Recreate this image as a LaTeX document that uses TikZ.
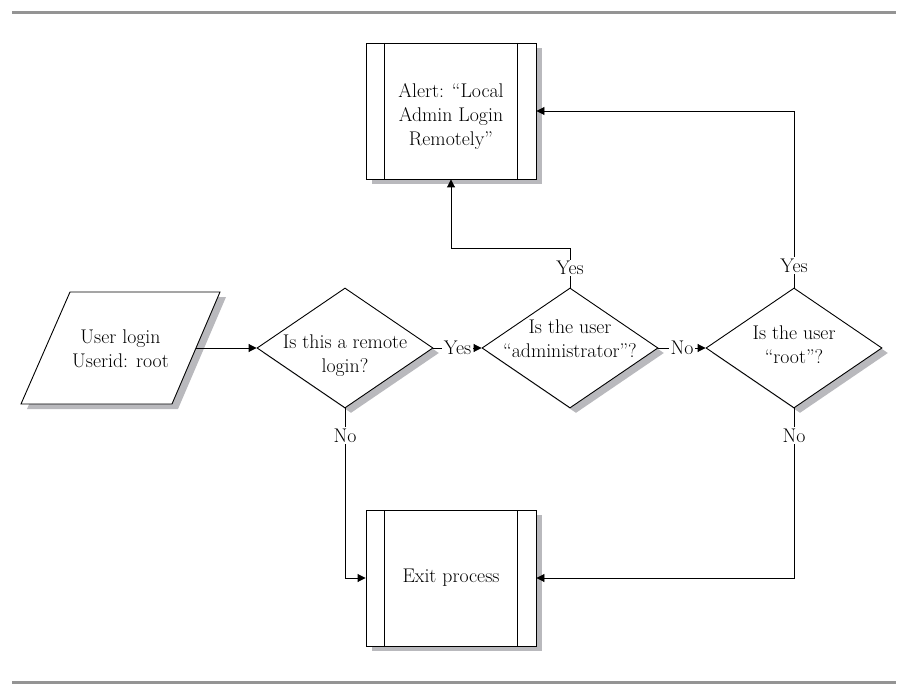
\documentclass[tikz,border=0pt]{standalone}
\usetikzlibrary{shapes.geometric,arrows.meta,shadows}
\definecolor{rulegray}{HTML}{949494}
\definecolor{shadowgray}{HTML}{B9B9BD}
\tikzset{
  base/.style={draw=black, line width=0.9pt, fill=white, inner sep=0pt,
    drop shadow={shadow xshift=6pt, shadow yshift=-5pt, fill=shadowgray, opacity=1}},
  txt/.style={align=center, inner sep=0pt, font=\fontsize{19.8}{24}\selectfont},
  procbox/.style={base, rectangle, minimum width=170pt, minimum height=136pt,
    path picture={
      \draw[line width=0.9pt] ([xshift=18pt]path picture bounding box.north west) -- ([xshift=18pt]path picture bounding box.south west);
      \draw[line width=0.9pt] ([xshift=-19pt]path picture bounding box.north east) -- ([xshift=-19pt]path picture bounding box.south east);
    }},
  decision/.style={base, diamond, aspect=1.45, minimum width=176pt, minimum height=120pt},
  conn/.style={line width=0.9pt, -{Triangle[length=8pt,width=8pt]}},
  lbl/.style={fill=white, inner sep=1.5pt, font=\fontsize{19.8}{22}\selectfont}
}
\begin{document}
\begin{tikzpicture}[x=1pt,y=-1pt]
\useasboundingbox (0,0) rectangle (913,695);
\draw[rulegray, line width=3pt] (12,12.5) -- (896,12.5);
\draw[rulegray, line width=3pt] (12,682.5) -- (896,682.5);

% process boxes
\node[procbox] (alert) at (451,111) {};
\node[txt] (alertt) at (451,117) {Alert: ``Local\\Admin Login\\Remotely''};
\node[procbox] (exit) at (451,578) {};
\node[txt] (exitt) at (451,578) {Exit process};

% input/output parallelogram
\fill[shadowgray] (76,297) -- (226,297) -- (178,409) -- (27,409) -- cycle;
\draw[line width=0.9pt, fill=white] (70,292) -- (220,292) -- (172,404) -- (21,404) -- cycle;
\node[txt] (login) at (120.5,349) {User login\\Userid: root};
\coordinate (loginR) at (196,348);

% decisions
\node[decision] (d1) at (345,348) {};
\node[txt] (d1t) at (345,356) {Is this a remote\\login?};
\node[decision] (d2) at (570,348) {};
\node[txt] (d2t) at (570,338.5) {Is the user\\``administrator''?};
\node[decision] (d3) at (794,348) {};
\node[txt] (d3t) at (794,345) {Is the user\\``root''?};

% connectors
\draw[conn] (loginR) -- (d1.west);
\draw[conn] (d1.east) -- node[lbl] {Yes} (d2.west);
\draw[conn] (d2.east) -- node[lbl] {No} (d3.west);
\draw[conn] (d2.north) -- node[lbl] {Yes} ++(0,-39) -| (alert.south);
\draw[conn] (d3.north) |- node[lbl, pos=0.062] {Yes} (alert.east);
\draw[conn] (d1.south) |- node[lbl, pos=0.08] {No} (exit.west);
\draw[conn] (d3.south) |- node[lbl, pos=0.08] {No} (exit.east);
\end{tikzpicture}
\end{document}
